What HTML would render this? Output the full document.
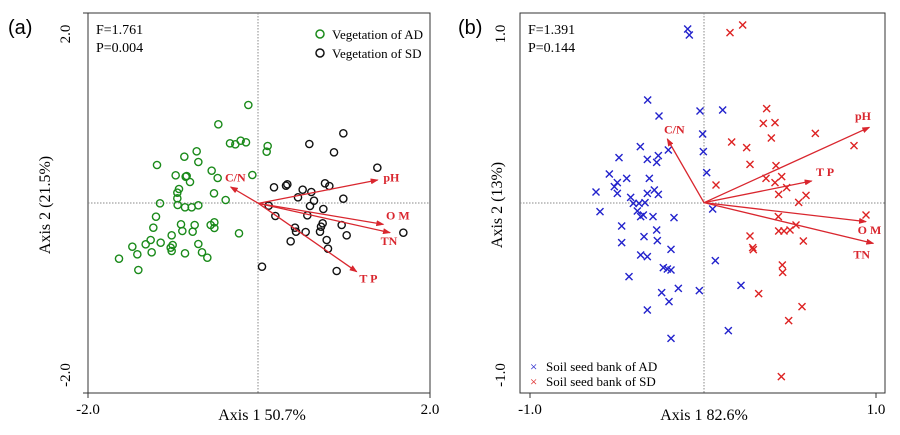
<!DOCTYPE html>
<html><head><meta charset="utf-8"><style>
html,body{margin:0;padding:0;background:#fff;}
svg{display:block;font-family:"Liberation Serif",serif;}
</style></head><body>
<svg id="s" width="900" height="435" viewBox="0 0 900 435" xmlns="http://www.w3.org/2000/svg">
<defs>
<marker id="ar" markerWidth="8" markerHeight="6" refX="7" refY="3" orient="auto" markerUnits="userSpaceOnUse"><path d="M0,0 L8,3 L0,6 z" fill="#d9262e"/></marker>
</defs>
<rect x="0" y="0" width="900" height="435" fill="#fff"/>
<!-- panel a frame -->
<rect x="88" y="13" width="342" height="380" fill="none" stroke="#333" stroke-width="1"/>
<line x1="258" y1="13" x2="258" y2="393" stroke="#888" stroke-dasharray="1.5,1.5"/>
<line x1="88" y1="203" x2="430" y2="203" stroke="#888" stroke-dasharray="1.5,1.5"/>
<line x1="88" y1="393" x2="88" y2="398" stroke="#333"/><line x1="430" y1="393" x2="430" y2="398" stroke="#333"/>
<line x1="83" y1="13" x2="88" y2="13" stroke="#333"/><line x1="83" y1="393" x2="88" y2="393" stroke="#333"/>
<text x="88" y="414" font-size="15" text-anchor="middle">-2.0</text>
<text x="430" y="414" font-size="15" text-anchor="middle">2.0</text>
<text x="262" y="420" font-size="16" text-anchor="middle">Axis 1 50.7%</text>
<text transform="translate(70,34) rotate(-90)" font-size="15" text-anchor="middle">2.0</text>
<text transform="translate(70,375) rotate(-90)" font-size="15" text-anchor="middle">-2.0</text>
<text transform="translate(50,205) rotate(-90)" font-size="16" text-anchor="middle">Axis 2 (21.5%)</text>
<text x="8" y="34" font-size="20" font-family="Liberation Sans,sans-serif">(a)</text>
<text x="96" y="34" font-size="14">F=1.761</text>
<text x="96" y="52" font-size="14">P=0.004</text>
<circle cx="320" cy="34" r="4" fill="none" stroke="#1a8a1a" stroke-width="1.5"/>
<text x="332" y="39" font-size="13">Vegetation of AD</text>
<circle cx="320" cy="53" r="4" fill="none" stroke="#111" stroke-width="1.5"/>
<text x="332" y="58" font-size="13">Vegetation of SD</text>
<g id="ga"></g>
<!-- panel b frame -->
<rect x="520" y="13" width="365" height="380" fill="none" stroke="#333" stroke-width="1"/>
<line x1="704" y1="13" x2="704" y2="393" stroke="#888" stroke-dasharray="1.5,1.5"/>
<line x1="520" y1="203" x2="885" y2="203" stroke="#888" stroke-dasharray="1.5,1.5"/>
<line x1="530" y1="393" x2="530" y2="398" stroke="#333"/><line x1="876" y1="393" x2="876" y2="398" stroke="#333"/>
<text x="530" y="414" font-size="15" text-anchor="middle">-1.0</text>
<text x="876" y="414" font-size="15" text-anchor="middle">1.0</text>
<text x="704" y="420" font-size="16" text-anchor="middle">Axis 1 82.6%</text>
<text transform="translate(505,34) rotate(-90)" font-size="15" text-anchor="middle">1.0</text>
<text transform="translate(505,375) rotate(-90)" font-size="15" text-anchor="middle">-1.0</text>
<text transform="translate(502,205) rotate(-90)" font-size="16" text-anchor="middle">Axis 2 (13%)</text>
<text x="458" y="34" font-size="20" font-family="Liberation Sans,sans-serif">(b)</text>
<text x="528" y="34" font-size="14">F=1.391</text>
<text x="528" y="52" font-size="14">P=0.144</text>
<text x="530" y="371" font-size="13" fill="#2222cc">×</text>
<text x="546" y="371" font-size="13">Soil seed bank of AD</text>
<text x="530" y="386" font-size="13" fill="#dd2222">×</text>
<text x="546" y="386" font-size="13">Soil seed bank of SD</text>
<g id="gb"></g>
</svg>
<script>
var NS="http://www.w3.org/2000/svg";
function el(g,t,a,txt){var e=document.createElementNS(NS,t);for(var k in a)e.setAttribute(k,a[k]);if(txt)e.textContent=txt;document.getElementById(g).appendChild(e);return e;}
var green=[[505,45],[415,103],[450,160],[466,163],[482,152],[498,157],[563,168],[560,185],[350,184],[313,200],[355,216],[231,225],[395,242],[287,256],[320,258],[317,260],[330,276],[413,264],[517,255],[297,297],[292,308],[402,310],[292,325],[437,330],[240,340],[293,345],[315,352],[335,352],[355,346],[228,380],[303,403],[344,405],[392,405],[403,397],[403,414],[220,413],[307,423],[338,425],[477,430],[275,436],[212,450],[242,458],[197,463],[157,470],[278,465],[272,473],[275,483],[215,487],[172,493],[117,506],[315,490],[355,462],[366,487],[382,503],[175,540]];
var black=[[790,130],[688,162],[762,187],[892,233],[582,292],[618,287],[622,283],[735,280],[748,288],[668,299],[694,306],[654,322],[702,332],[790,326],[566,347],[690,348],[730,357],[682,376],[586,378],[728,400],[723,410],[785,405],[645,413],[648,425],[677,426],[720,425],[800,436],[970,428],[740,450],[632,454],[744,476],[546,530],[770,543]];
function A(p){return [80+p[0]/3,90+p[1]/3];}
green.forEach(function(p){var q=A(p);el("ga","circle",{cx:q[0],cy:q[1],r:3.6,fill:"none",stroke:"#1a8a1a","stroke-width":1.4});});
black.forEach(function(p){var q=A(p);el("ga","circle",{cx:q[0],cy:q[1],r:3.6,fill:"none",stroke:"#111","stroke-width":1.4});});
var o=A([535,340]);
[[[893,270],"pH",[910,275]],[[910,403],"O M",[918,388]],[[930,428],"TN",[902,465]],[[830,545],"T P",[838,577]],[[452,291],"C/N",[435,275]]].forEach(function(a){var e=A(a[0]);el("ga","line",{x1:o[0],y1:o[1],x2:e[0],y2:e[1],stroke:"#d9262e","stroke-width":1.3,"marker-end":"url(#ar)"});var t=A(a[2]);el("ga","text",{x:t[0],y:t[1],fill:"#d9262e","font-size":12,"font-weight":"bold"},a[1]);});
var blue=[[383,57],[388,75],[263,270],[297,318],[420,303],[488,300],[428,372],[430,425],[325,420],[241,410],[177,443],[262,448],[295,437],[290,457],[148,492],[200,505],[172,518],[268,505],[163,530],[440,488],[108,546],[172,550],[212,562],[262,550],[283,540],[295,553],[220,580],[237,580],[255,578],[232,603],[242,620],[250,615],[120,605],[279,620],[342,623],[458,597],[185,648],[290,660],[252,680],[292,692],[185,698],[333,718],[242,735],[262,740],[310,773],[322,777],[333,780],[466,752],[207,800],[418,842],[355,835],[305,848],[327,875],[543,826],[262,900],[505,962],[333,985]];
var red=[[510,68],[548,45],[620,296],[610,340],[645,338],[634,384],[515,396],[560,413],[766,370],[882,407],[570,463],[648,467],[665,500],[618,505],[645,518],[680,533],[468,525],[656,553],[738,556],[716,577],[655,620],[918,615],[708,645],[690,660],[656,663],[672,663],[570,678],[578,713],[580,719],[730,693],[667,765],[668,787],[596,851],[726,890],[686,932],[664,1100]];
function B(p){return [560+p[0]/3,10+p[1]/3];}
function X(g,q,c){var d=3.5;el(g,"path",{d:"M"+(q[0]-d)+","+(q[1]-d)+"L"+(q[0]+d)+","+(q[1]+d)+"M"+(q[0]-d)+","+(q[1]+d)+"L"+(q[0]+d)+","+(q[1]-d),stroke:c,"stroke-width":1.4,fill:"none"});}
blue.forEach(function(p){X("gb",B(p),"#2222cc");});
red.forEach(function(p){X("gb",B(p),"#dd2222");});
var ob=B([432,578]);
[[[928,352],"pH",[885,330]],[[755,513],"T P",[768,498]],[[918,635],"O M",[893,672]],[[940,700],"TN",[880,745]],[[322,387],"C/N",[312,370]]].forEach(function(a){var e=B(a[0]);el("gb","line",{x1:ob[0],y1:ob[1],x2:e[0],y2:e[1],stroke:"#d9262e","stroke-width":1.3,"marker-end":"url(#ar)"});var t=B(a[2]);el("gb","text",{x:t[0],y:t[1],fill:"#d9262e","font-size":12,"font-weight":"bold"},a[1]);});
</script>
</body></html>
